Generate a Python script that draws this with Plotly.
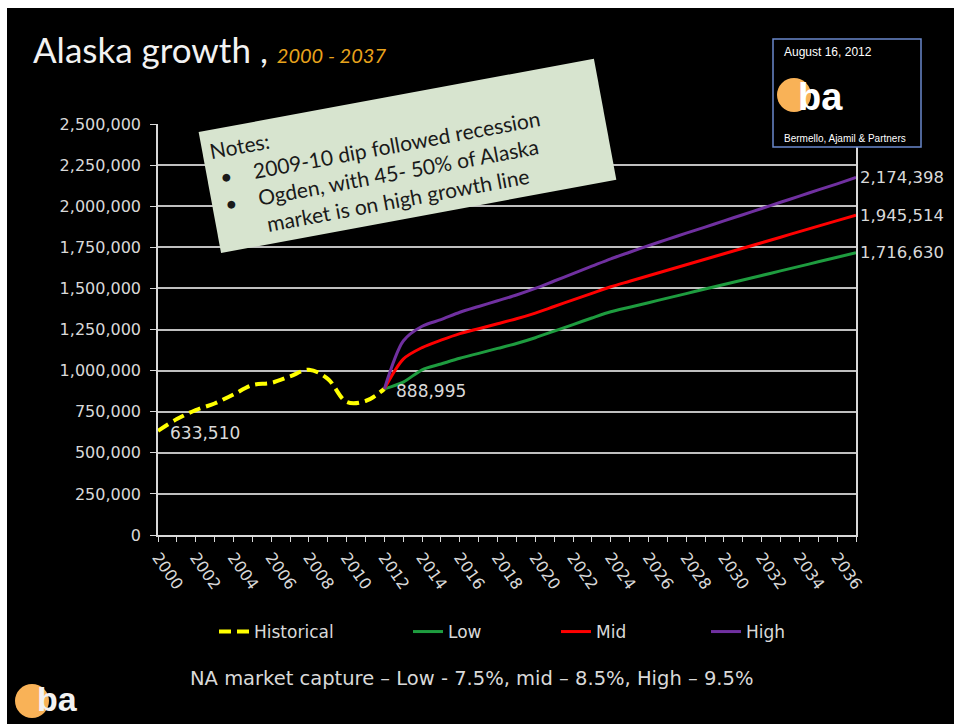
import plotly.graph_objects as go

# ---------------- data ----------------
hist_years = list(range(2000, 2013))
hist_vals = [633510, 705000, 760000, 800000, 855000, 912000, 925000, 965000,
             1005000, 950000, 810000, 815000, 888995]

proj_years = list(range(2012, 2038))
low_vals = [888995, 930000, 1005000, 1040000, 1075000, 1105000, 1135000, 1165000,
            1200000, 1240000, 1280000, 1320000, 1358000, 1385600, 1413200, 1440800,
            1468400, 1496000, 1523600, 1551200, 1578800, 1606400, 1634000, 1661600,
            1689200, 1716630]
mid_vals = [888995, 1070000, 1140000, 1185000, 1225000, 1255000, 1285000, 1315000,
            1350000, 1390000, 1430000, 1470000, 1510000, 1543500, 1577000, 1610500,
            1644000, 1677500, 1711000, 1744500, 1778000, 1811500, 1845000, 1878500,
            1912000, 1945514]
high_vals = [888995, 1180000, 1270000, 1310000, 1355000, 1390000, 1425000, 1460000,
             1500000, 1545000, 1590000, 1635000, 1680000, 1720000, 1760000, 1798000,
             1836000, 1873000, 1911000, 1948000, 1986000, 2024000, 2061000, 2099000,
             2136000, 2174398]

y_ticks = [0, 250000, 500000, 750000, 1000000, 1250000, 1500000, 1750000,
           2000000, 2250000, 2500000]
x_ticks = list(range(2000, 2037, 2))

series_names = ["Historical", "Low", "Mid", "High"]
series_colors = ["#ffff00", "#1e9c3f", "#ff0000", "#7030a0"]

# ---------------- layout helpers ----------------
W, H = 954, 724
L, R, T, B = 158, 856, 124, 535


def px(x):
    return (x - L) / (R - L)


def py(y):
    return (B - y) / (B - T)


TXT = "#d9d9d9"
FONT = "DejaVu Sans"

fig = go.Figure()

fig.add_trace(go.Scatter(
    x=hist_years, y=hist_vals, mode="lines", name=series_names[0],
    line=dict(color=series_colors[0], width=4, dash="12px,6px", shape="spline", smoothing=1.0),
    legend="legend"))
for nm, col, vals, lg in zip(series_names[1:], series_colors[1:],
                             [low_vals, mid_vals, high_vals],
                             ["legend2", "legend3", "legend4"]):
    fig.add_trace(go.Scatter(
        x=proj_years, y=vals, mode="lines", name=nm,
        line=dict(color=col, width=3, shape="spline", smoothing=0.8),
        legend=lg))

annotations = []
# data labels
for xv, yv in [(hist_years[0], hist_vals[0]), (hist_years[-1], hist_vals[-1])]:
    annotations.append(dict(x=xv, y=yv, xref="x", yref="y", text=f"{yv:,}",
                            showarrow=False, xanchor="left", yanchor="middle",
                            xshift=10, yshift=-2, font=dict(family=FONT, size=17, color=TXT)))
for vals in [high_vals, mid_vals, low_vals]:
    annotations.append(dict(x=proj_years[-1], y=vals[-1], xref="x", yref="y",
                            text=f"{vals[-1]:,}", showarrow=False, xanchor="left",
                            yanchor="middle", xshift=2,
                            font=dict(family=FONT, size=16.5, color=TXT)))

# title
annotations.append(dict(
    x=px(31), y=py(49), xref="paper", yref="paper", xanchor="left", yanchor="middle",
    showarrow=False,
    text="Alaska growth , <span style='font-size:20px;color:#e8a31c'><i>2000 - 2037</i></span>",
    font=dict(family="Lato", size=35, color="#f2f2f2")))

# notes box (rotated)
notes_text = ("Notes:<br>"
              "\u00a0•\u00a0\u00a0\u00a0\u00a02009-10 dip followed recession<br>"
              "\u00a0•\u00a0\u00a0\u00a0\u00a0Ogden, with 45- 50% of Alaska<br>"
              "\u00a0\u00a0\u00a0\u00a0\u00a0\u00a0\u00a0\u00a0market is on high growth line")
annotations.append(dict(
    x=px(407), y=py(156), xref="paper", yref="paper", xanchor="center", yanchor="middle",
    showarrow=False, text=notes_text, align="left", valign="middle",
    textangle=-10.5, width=387, height=108, borderpad=7,
    bgcolor="#d7e4cf", font=dict(family="Lato", size=21, color="#1a1a1a")))

# logo box texts
annotations.append(dict(x=px(782), y=py(52), xref="paper", yref="paper", xanchor="left",
                        yanchor="middle", showarrow=False, text="August 16, 2012",
                        font=dict(family="Liberation Sans", size=12, color="#ffffff")))
annotations.append(dict(x=px(782), y=py(139), xref="paper", yref="paper", xanchor="left",
                        yanchor="middle", showarrow=False, text="Bermello, Ajamil &amp; Partners",
                        font=dict(family="Liberation Sans", size=10, color="#ffffff")))
annotations.append(dict(x=px(796), y=py(97), xref="paper", yref="paper", xanchor="left",
                        yanchor="middle", showarrow=False, text="<b>ba</b>",
                        font=dict(family="Liberation Sans", size=38, color="#ffffff")))
# bottom-left logo text
annotations.append(dict(x=px(35), y=py(699), xref="paper", yref="paper", xanchor="left",
                        yanchor="middle", showarrow=False, text="<b>ba</b>",
                        font=dict(family="Liberation Sans", size=34, color="#f2f2f2")))
# footnote
annotations.append(dict(x=px(471), y=py(678), xref="paper", yref="paper", xanchor="center",
                        yanchor="middle", showarrow=False,
                        text="NA market capture – Low - 7.5%, mid – 8.5%, High – 9.5%",
                        font=dict(family=FONT, size=19.5, color=TXT)))

shapes = [
    # white border at top and left
    dict(type="rect", xref="paper", yref="paper", x0=px(0), x1=px(W), y0=py(0), y1=py(8),
         fillcolor="#ffffff", line=dict(width=0), layer="above"),
    dict(type="rect", xref="paper", yref="paper", x0=px(0), x1=px(7), y0=py(0), y1=py(H),
         fillcolor="#ffffff", line=dict(width=0), layer="above"),
    # logo box
    dict(type="rect", xref="paper", yref="paper", x0=px(773), x1=px(921), y0=py(147), y1=py(39),
         fillcolor="#000000", line=dict(color="#6a88cc", width=1.5), layer="above"),
    dict(type="circle", xref="paper", yref="paper", x0=px(777), x1=px(811), y0=py(112), y1=py(78),
         fillcolor="#f9b257", line=dict(width=0), layer="above"),
    dict(type="circle", xref="paper", yref="paper", x0=px(15), x1=px(49), y0=py(718), y1=py(684),
         fillcolor="#f9b257", line=dict(width=0), layer="above"),
]

leg_common = dict(orientation="h", xanchor="left", yanchor="middle", bgcolor="rgba(0,0,0,0)",
                  font=dict(family=FONT, size=17, color=TXT), itemwidth=30,
                  yref="paper", xref="paper")

fig.update_layout(
    width=W, height=H,
    margin=dict(l=L, r=W - R, t=T, b=H - B, autoexpand=False),
    paper_bgcolor="#000000", plot_bgcolor="#000000",
    showlegend=True,
    legend=dict(x=px(214), y=py(632), **leg_common),
    legend2=dict(x=px(408), y=py(632), **leg_common),
    legend3=dict(x=px(556), y=py(632), **leg_common),
    legend4=dict(x=px(706), y=py(632), **leg_common),
    xaxis=dict(range=[2000, 2037], tickvals=x_ticks, ticktext=[str(v) for v in x_ticks],
               tickangle=55, ticks="outside", ticklen=5, tickcolor="#d9d9d9",
               minor=dict(dtick=1, tick0=2000, ticks="outside", ticklen=5, tickcolor="#d9d9d9"),
               showgrid=False, zeroline=False, showline=True, linecolor="#d9d9d9", linewidth=1.5,
               tickfont=dict(family=FONT, size=16, color=TXT)),
    yaxis=dict(range=[0, 2500000], tickvals=y_ticks, tickformat=",d",
               ticks="outside", ticklen=6, tickcolor="#d9d9d9", ticklabelstandoff=6,
               showgrid=True, gridcolor="#bfbfbf", gridwidth=1.5, zeroline=False,
               showline=True, linecolor="#d9d9d9", linewidth=1.5, mirror=True,
               tickfont=dict(family=FONT, size=16, color=TXT)),
    annotations=annotations, shapes=shapes,
)

fig.write_html("out.html")
